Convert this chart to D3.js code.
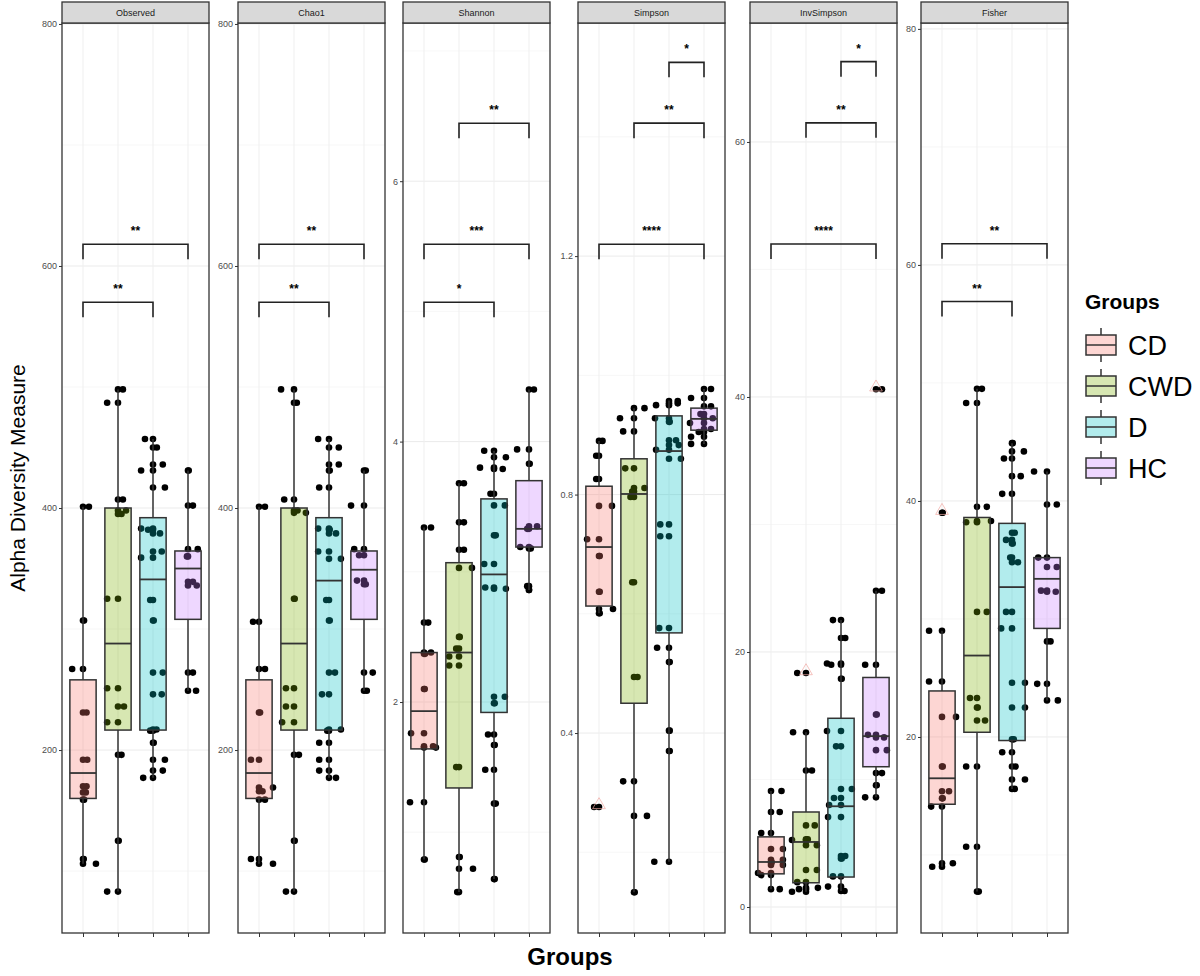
<!DOCTYPE html>
<html>
<head>
<meta charset="utf-8">
<script src="https://cdn.jsdelivr.net/npm/d3@7"></script>
<style>
  body { margin: 0; background: #fff; }
  text { font-family: "Liberation Sans", Arial, sans-serif; }
</style>
</head>
<body>
<script>
const groups = ["CD", "CWD", "D", "HC"];
const colors = ["#F8766D", "#7CAE00", "#00BFC4", "#C77CFF"];
const measures = ["Observed", "Chao1", "Shannon", "Simpson", "InvSimpson", "Fisher"];

// y domains, ticks, minor grid (free scales per facet)
const yDomains = [[48.8, 800.8], [48.8, 800.8], [0.226, 7.215], [0.0646, 1.591], [-2.04, 69.33], [3.39, 80.5]];
const yTicks = [[200, 400, 600, 800], [200, 400, 600, 800], [2, 4, 6], [0.4, 0.8, 1.2], [0, 20, 40, 60], [20, 40, 60, 80]];
const yMinor = [[100, 300, 500, 700], [100, 300, 500, 700], [1, 3, 5, 7], [0.2, 0.6, 1.0, 1.4], [10, 30, 50], [10, 30, 50, 70]];

// box stats per group: [lower whisker, Q1, median, Q3, upper whisker]
const boxObserved   = [[106, 160, 181, 258, 401], [83, 216.5, 288, 400, 498], [177, 216.5, 341, 392, 457], [249, 308, 350, 364.5, 431]];
const boxChao1      = [[106, 160, 181, 258, 401], [83, 216.5, 288, 400, 498], [177, 216.5, 340, 392, 457], [249, 308, 349, 364.5, 431]];
const boxShannon    = [[0.79, 1.64, 1.93, 2.38, 3.34], [0.54, 1.34, 2.38, 3.07, 3.68], [0.64, 1.92, 2.98, 3.56, 3.93], [2.86, 3.19, 3.33, 3.70, 4.40]];
const boxSimpson    = [[0.601, 0.613, 0.712, 0.814, 0.890], [0.133, 0.450, 0.801, 0.860, 0.945], [0.184, 0.568, 0.873, 0.932, 0.958], [0.885, 0.908, 0.927, 0.945, 0.977]];
const boxInvSimpson = [[1.4, 2.6, 3.53, 5.5, 9.1], [1.2, 1.9, 5.1, 7.45, 13.7], [1.25, 2.35, 7.9, 14.8, 22.5], [8.6, 11.0, 13.4, 18.0, 24.8]];
const boxFisher     = [[9.0, 14.3, 16.5, 23.9, 29.0], [6.9, 20.4, 26.9, 38.6, 49.5], [15.6, 19.7, 32.7, 38.1, 44.9], [23.1, 29.2, 33.4, 35.2, 42.5]];

// samples per group: [value, jitter offset in group units]
const ptsObserved = [
  [[401, 0.17], [307, 0.03], [267, -0.31], [231, 0.1], [192, 0.12], [170, 0.1], [165, 0.08], [159, 0.03], [110, 0.02], [106, 0.37]],
  [[498, 0.14], [487, -0.31], [407, 0.14], [398, 0.23], [395, 0.1], [325, -0.31], [251, -0.31], [236, 0.17], [223, -0.31], [196, 0.1], [125, 0.02], [83, -0.31]],
  [[457, -0.23], [450, 0.11], [436, 0.28], [431, -0.34], [417, 0.34], [383, -0.34], [382, -0.14], [379, 0.2], [364, 0.25], [359, -0.34], [324, -0.08], [307, 0.02], [264, 0.28], [246, 0.25], [217, 0.1], [216, -0.08], [206, 0.02], [192, 0.34], [183, 0.28], [177, -0.28]],
  [[431, 0.02], [402, 0.14], [366, 0.28], [360, -0.03], [339, 0.14], [336, 0.25], [264, 0.14], [249, 0.23]]
];
const ptsChao1 = [
  [[401, 0.17], [306, -0.17], [267, 0.17], [231, 0.03], [192, -0.23], [169, 0.4], [166, 0.1], [159, 0.17], [110, -0.23], [106, 0.4]],
  [[498, -0.37], [487, 0.08], [407, -0.28], [398, 0.1], [396, 0.34], [325, 0.02], [251, -0.23], [236, -0.23], [223, -0.34], [196, 0.14], [125, 0.02], [83, -0.23]],
  [[457, -0.31], [450, 0.28], [436, 0.28], [431, 0.02], [417, -0.28], [383, -0.31], [382, 0.02], [379, 0.2], [364, -0.31], [358, 0.34], [324, -0.08], [307, 0.02], [264, 0.17], [246, -0.2], [217, 0.34], [216, -0.05], [206, -0.28], [192, -0.28], [183, -0.28], [177, 0.2]],
  [[431, 0.05], [402, -0.37], [366, -0.28], [361, -0.14], [340, -0.2], [337, 0.05], [264, 0.25], [249, 0.08]]
];
const ptsShannon = [
  [[3.34, 0.2], [2.61, 0.12], [2.38, 0.2], [2.37, 0.03], [2.10, 0.02], [1.76, -0.37], [1.66, 0.26], [1.65, 0.34], [1.23, -0.4], [0.79, 0.02]],
  [[3.68, 0.14], [3.38, 0.14], [3.17, 0.14], [3.03, 0.37], [2.50, 0.02], [2.41, -0.08], [2.35, -0.28], [2.28, -0.28], [1.50, -0.08], [0.81, 0.02], [0.72, 0.4], [0.54, -0.05]],
  [[3.93, -0.28], [3.88, 0.34], [3.80, -0.4], [3.79, 0.25], [3.60, -0.1], [3.51, 0.31], [3.28, 0.05], [3.06, -0.28], [2.88, -0.25], [2.87, 0.34], [2.04, 0.31], [1.99, 0.02], [1.75, -0.17], [1.67, 0.02], [1.48, -0.25], [1.22, 0.05], [0.64, 0.02]],
  [[4.40, 0.14], [3.94, -0.34], [3.83, 0.02], [3.35, 0.23], [3.33, -0.05], [3.19, -0.25], [3.18, 0.05], [2.89, -0.05], [2.86, 0]]
];
const ptsSimpson = [
  [[0.890, 0.1], [0.865, -0.08], [0.826, -0.08], [0.781, 0.37], [0.725, -0.34], [0.697, 0.02], [0.637, 0.02], [0.608, 0.4], [0.601, 0.02], [0.276, -0.14]],
  [[0.945, 0.3], [0.928, -0.4], [0.906, -0.31], [0.844, -0.25], [0.811, 0.3], [0.805, -0.05], [0.796, -0.1], [0.653, -0.05], [0.494, 0.1], [0.319, -0.31], [0.261, 0.37], [0.133, 0.02]],
  [[0.957, 0.25], [0.953, 0.25], [0.95, -0.37], [0.928, -0.4], [0.922, 0.02], [0.891, 0.2], [0.883, 0.28], [0.875, -0.37], [0.860, 0.34], [0.750, -0.25], [0.730, -0.25], [0.576, -0.28], [0.543, -0.34], [0.519, 0.02], [0.404, 0.02], [0.370, 0.02], [0.184, -0.42]],
  [[0.977, 0.2], [0.962, -0.37], [0.948, 0.2], [0.935, -0.1], [0.928, 0.25], [0.92, -0.4], [0.91, 0.2], [0.905, -0.15], [0.897, -0.37], [0.885, -0.37]]
];
const ptsInvSimpson = [
  [[9.1, 0.3], [7.45, 0.25], [5.8, -0.28], [4.55, 0.34], [3.7, 0.34], [3.5, 0.02], [3.3, 0.34], [2.67, -0.37], [2.5, -0.28], [1.4, 0.25]],
  [[18.35, -0.25], [13.7, -0.37], [10.7, 0.17], [6.4, 0.25], [5.3, 0.05], [5.25, -0.4], [4.85, 0.31], [2.9, 0.31], [1.95, -0.25], [1.5, 0.34], [1.4, -0.2], [1.2, -0.4]],
  [[22.5, -0.23], [21.1, 0.12], [19.1, -0.4], [19.0, -0.28], [17.9, 0.02], [13.8, -0.4], [12.6, -0.14], [9.25, 0.31], [8.55, -0.2], [8, -0.34], [7.05, -0.37], [4, 0.12], [3.8, 0.02], [2.4, -0.23], [1.6, -0.37], [1.25, 0.1]],
  [[40.6, 0.17], [24.8, 0.17], [19, -0.31], [15.1, 0.02], [13.5, -0.23], [13.3, 0.23], [12.3, 0.31], [10.5, 0.17], [9.55, 0.02], [8.6, -0.31]]
];
const ptsFisher = [
  [[39.0, 0.02], [29.0, -0.37], [24.7, -0.37], [21.7, 0.4], [17.5, 0.02], [15.4, 0.2], [14.8, 0.02], [14.1, -0.31], [9.3, 0.31], [9.0, -0.28]],
  [[49.5, 0.14], [48.3, -0.31], [39.5, 0.28], [38.3, 0.4], [38.2, -0.31], [30.6, 0.28], [23.3, -0.2], [22.5, 0.02], [21.4, 0.23], [17.5, -0.31], [10.7, -0.31], [6.9, 0.05]],
  [[44.9, 0.02], [44.2, 0.34], [43.6, -0.23], [42.1, 0.25], [40.6, -0.28], [37.3, 0.08], [36.7, -0.17], [36.4, 0.02], [35.2, -0.05], [34.8, 0.17], [30.6, -0.17], [29.2, -0.31], [24.6, 0.37], [22.5, 0.37], [19.8, 0.05], [18.7, -0.28], [17.5, 0.1], [16.4, 0.37], [15.6, 0.08]],
  [[42.5, -0.37], [39.7, 0.28], [35.2, -0.25], [34.4, 0.28], [32.4, -0.17], [32.3, 0.25], [28.1, 0.1], [24.5, -0.28], [23.1, 0.31]]
];

// boxplot outliers: [group index, value]
const outObserved = [], outChao1 = [], outShannon = [];
const outSimpson = [[0, 0.276]];
const outInvSimpson = [[1, 18.35], [3, 40.6]];
const outFisher = [[0, 39.0]];

// significance brackets: [group1, group2, y value, label]
const sigObserved   = [[0, 3, 618, "**"], [0, 2, 570, "**"]];
const sigChao1      = [[0, 3, 618, "**"], [0, 2, 570, "**"]];
const sigShannon    = [[0, 3, 5.516, "***"], [0, 2, 5.07, "*"], [1, 3, 6.445, "**"]];
const sigSimpson    = [[0, 3, 1.220, "****"], [1, 3, 1.423, "**"], [2, 3, 1.525, "*"]];
const sigInvSimpson = [[0, 3, 52.0, "****"], [1, 3, 61.5, "**"], [2, 3, 66.3, "*"]];
const sigFisher     = [[0, 3, 61.8, "**"], [0, 2, 56.9, "**"]];

const panels = [
  {box: boxObserved, pts: ptsObserved, out: outObserved, sig: sigObserved},
  {box: boxChao1, pts: ptsChao1, out: outChao1, sig: sigChao1},
  {box: boxShannon, pts: ptsShannon, out: outShannon, sig: sigShannon},
  {box: boxSimpson, pts: ptsSimpson, out: outSimpson, sig: sigSimpson},
  {box: boxInvSimpson, pts: ptsInvSimpson, out: outInvSimpson, sig: sigInvSimpson},
  {box: boxFisher, pts: ptsFisher, out: outFisher, sig: sigFisher}
];

const plotTop = 23, plotBottom = 933, panelW = 147;
const panelLefts = [62, 238, 403, 578, 750, 921];
const dark = "#333333";

var svg = d3.select("body").append("svg")
    .attr("width", 1200)
    .attr("height", 976);

panels.forEach((p, i) => {
    const x0 = panelLefts[i];
    const x = d3.scalePoint().domain(groups).range([x0, x0 + panelW]).padding(0.6);
    const step = x.step();
    const y = d3.scaleLinear().domain(yDomains[i]).range([plotBottom, plotTop]);
    const g = svg.append("g");

    // grid
    g.selectAll(".minor").data(yMinor[i]).join("line")
        .attr("x1", x0).attr("x2", x0 + panelW)
        .attr("y1", d => y(d)).attr("y2", d => y(d))
        .attr("stroke", "#f4f4f4").attr("stroke-width", 0.7);
    g.selectAll(".major").data(yTicks[i]).join("line")
        .attr("x1", x0).attr("x2", x0 + panelW)
        .attr("y1", d => y(d)).attr("y2", d => y(d))
        .attr("stroke", "#ebebeb").attr("stroke-width", 1);
    g.selectAll(".vgrid").data(groups).join("line")
        .attr("x1", d => x(d)).attr("x2", d => x(d))
        .attr("y1", plotTop).attr("y2", plotBottom)
        .attr("stroke", "#efefef").attr("stroke-width", 1);

    // points: one at the group centre, one jittered
    const pts = [];
    p.pts.forEach((arr, gi) => arr.forEach(d => {
        pts.push({g: gi, v: d[0], dx: 0});
        pts.push({g: gi, v: d[0], dx: d[1]});
    }));
    g.selectAll(".pt").data(pts).join("circle")
        .attr("cx", d => x(groups[d.g]) + d.dx * step)
        .attr("cy", d => y(d.v))
        .attr("r", 3.3)
        .attr("fill", "#000");

    // boxes
    const bw = step * 0.75;
    const bx = g.selectAll(".box").data(p.box).join("g");
    bx.append("line")
        .attr("x1", (d, gi) => x(groups[gi])).attr("x2", (d, gi) => x(groups[gi]))
        .attr("y1", d => y(d[0])).attr("y2", d => y(d[1]))
        .attr("stroke", dark).attr("stroke-width", 1.5);
    bx.append("line")
        .attr("x1", (d, gi) => x(groups[gi])).attr("x2", (d, gi) => x(groups[gi]))
        .attr("y1", d => y(d[3])).attr("y2", d => y(d[4]))
        .attr("stroke", dark).attr("stroke-width", 1.5);
    bx.append("rect")
        .attr("x", (d, gi) => x(groups[gi]) - bw / 2)
        .attr("y", d => y(d[3]))
        .attr("width", bw)
        .attr("height", d => y(d[1]) - y(d[3]))
        .attr("fill", (d, gi) => colors[gi]).attr("fill-opacity", 0.3)
        .attr("stroke", dark).attr("stroke-width", 1.5);
    bx.append("line")
        .attr("x1", (d, gi) => x(groups[gi]) - bw / 2).attr("x2", (d, gi) => x(groups[gi]) + bw / 2)
        .attr("y1", d => y(d[2])).attr("y2", d => y(d[2]))
        .attr("stroke", dark).attr("stroke-width", 1.8);

    // outliers
    g.selectAll(".out").data(p.out).join("path")
        .attr("d", d3.symbol(d3.symbolTriangle, 70))
        .attr("transform", d => `translate(${x(groups[d[0]])},${y(d[1]) - 2})`)
        .attr("fill", "none").attr("stroke", "#f1aaa4").attr("stroke-opacity", 0.7);

    // significance brackets
    g.selectAll(".sig").data(p.sig).join("path")
        .attr("d", d => {
            const yy = y(d[2]), a = x(groups[d[0]]), b = x(groups[d[1]]);
            return `M${a},${yy + 15}V${yy}H${b}V${yy + 15}`;
        })
        .attr("fill", "none").attr("stroke", "#222").attr("stroke-width", 1.6);
    g.selectAll(".sigtext").data(p.sig).join("text")
        .attr("x", d => (x(groups[d[0]]) + x(groups[d[1]])) / 2)
        .attr("y", d => y(d[2]) - 9)
        .attr("text-anchor", "middle")
        .attr("font-size", 12).attr("font-weight", "bold")
        .text(d => d[3]);

    // border
    g.append("rect")
        .attr("x", x0).attr("y", plotTop)
        .attr("width", panelW).attr("height", plotBottom - plotTop)
        .attr("fill", "none").attr("stroke", dark).attr("stroke-width", 1.3);

    // strip
    g.append("rect")
        .attr("x", x0).attr("y", 2)
        .attr("width", panelW).attr("height", plotTop - 2)
        .attr("fill", "#d9d9d9").attr("stroke", dark).attr("stroke-width", 1.3);
    g.append("text")
        .attr("x", x0 + panelW / 2).attr("y", 15.5)
        .attr("text-anchor", "middle")
        .attr("font-size", 9).attr("fill", "#1a1a1a")
        .text(measures[i]);

    // axes
    const ya = g.append("g")
        .attr("transform", `translate(${x0},0)`)
        .call(d3.axisLeft(y).tickValues(yTicks[i]).tickSize(3).tickPadding(2).tickFormat(d => String(d)));
    ya.select(".domain").remove();
    ya.selectAll("line").attr("stroke", dark);
    ya.selectAll("text").attr("fill", "#4d4d4d").attr("font-size", 9)
        .attr("font-family", "Liberation Sans, Arial, sans-serif");

    const xa = g.append("g")
        .attr("transform", `translate(0,${plotBottom})`)
        .call(d3.axisBottom(x).tickSize(4).tickFormat(""));
    xa.select(".domain").remove();
    xa.selectAll("line").attr("stroke", dark);
});

// axis titles
svg.append("text")
    .attr("transform", "translate(25,478) rotate(-90)")
    .attr("text-anchor", "middle")
    .attr("font-size", 21)
    .text("Alpha Diversity Measure");

svg.append("text")
    .attr("x", 570).attr("y", 965)
    .attr("text-anchor", "middle")
    .attr("font-size", 24).attr("font-weight", "bold")
    .text("Groups");

// legend
const legend = svg.append("g").attr("transform", "translate(1085,0)");
legend.append("text")
    .attr("x", 0).attr("y", 309)
    .attr("font-size", 21).attr("font-weight", "bold")
    .text("Groups");
const keys = legend.selectAll(".key").data(groups).join("g")
    .attr("transform", (d, i) => `translate(0,${345 + i * 41})`);
keys.append("line")
    .attr("x1", 16).attr("x2", 16).attr("y1", -17).attr("y2", 17)
    .attr("stroke", dark).attr("stroke-width", 1.5);
keys.append("rect")
    .attr("x", 1).attr("y", -10).attr("width", 30).attr("height", 20)
    .attr("fill", "#fff");
keys.append("rect")
    .attr("x", 1).attr("y", -10).attr("width", 30).attr("height", 20)
    .attr("fill", (d, i) => colors[i]).attr("fill-opacity", 0.3)
    .attr("stroke", dark).attr("stroke-width", 1.5);
keys.append("line")
    .attr("x1", 1).attr("x2", 31).attr("y1", 0).attr("y2", 0)
    .attr("stroke", dark).attr("stroke-width", 1.5);
keys.append("text")
    .attr("x", 43).attr("y", 10)
    .attr("font-size", 27)
    .text(d => d);
</script>
</body>
</html>
